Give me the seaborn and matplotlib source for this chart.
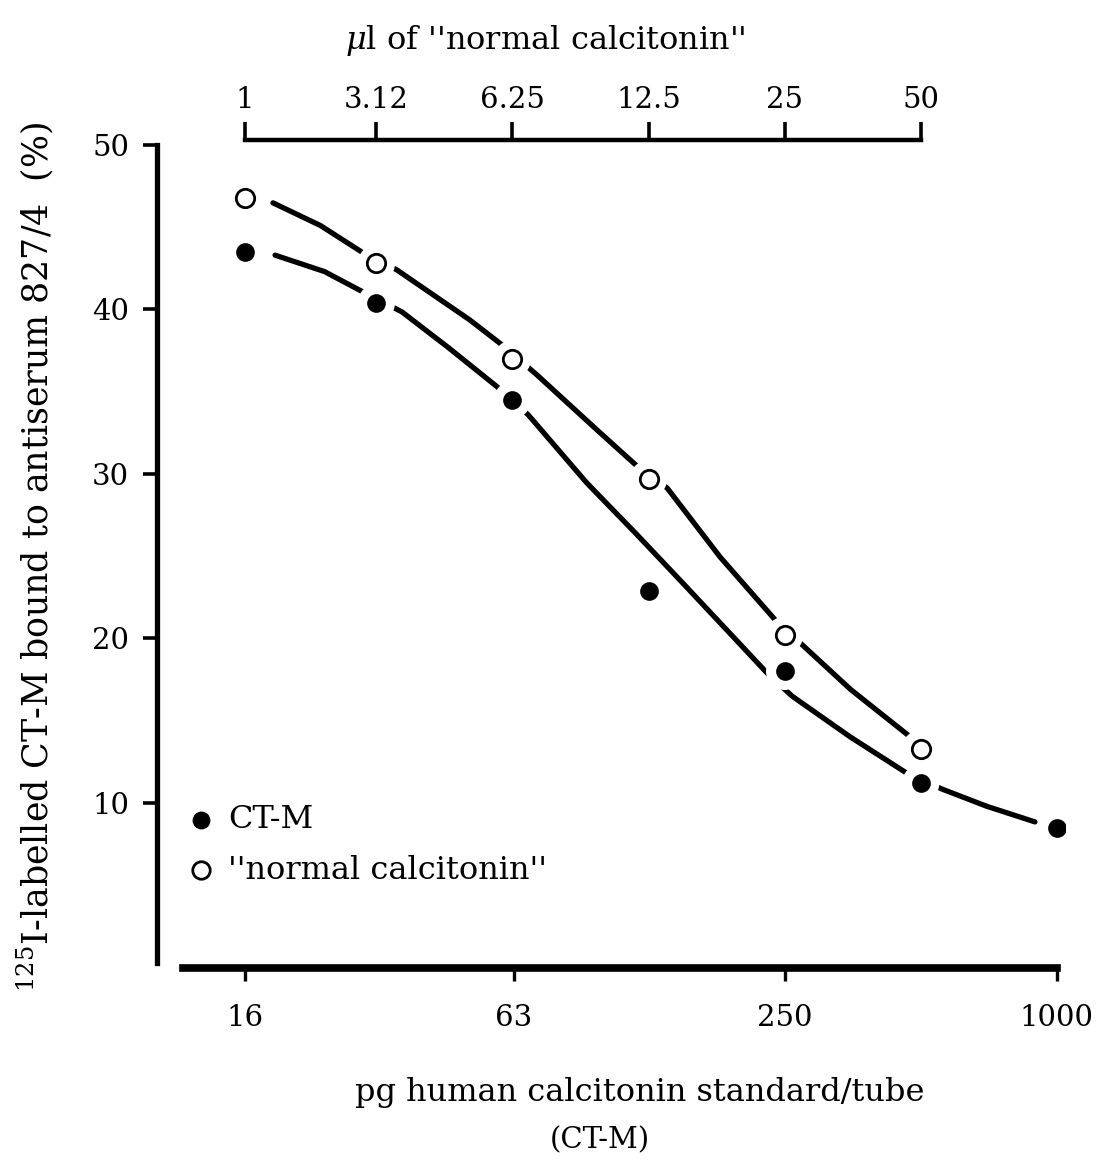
import numpy as np
import pandas as pd
import matplotlib
matplotlib.use("Agg")
import matplotlib.pyplot as plt
from matplotlib.ticker import NullLocator, FixedLocator
import seaborn as sns

# ---- data ----
dose_pg = [16, 31.25, 62.5, 125, 250, 500, 1000]
ctm_bound = [43.5, 40.4, 34.5, 22.9, 18.0, 11.2, 8.5]
normal_dose_pg = [16, 31.25, 62.5, 125, 250, 500]
normal_bound = [46.8, 42.8, 37.0, 29.7, 20.2, 13.3]

# hand-drawn fitted curves
ctm_curve_x = [18.65, 24.0, 29.2, 35.6, 45.0, 57.8, 67.7, 91.3, 117, 146.7, 185, 228.6, 259.6, 350, 466.6, 557, 700, 895]
ctm_curve_y = [43.3, 42.3, 41.06, 39.85, 37.7, 35.3, 33.6, 29.45, 26.4, 23.55, 20.6, 17.9, 16.5, 14.0, 11.8, 10.85, 9.8, 8.85]
normal_curve_x = [18.45, 23.5, 29.2, 34.7, 50.3, 59.3, 70.8, 96.1, 118.4, 137.4, 180, 240.6, 270.6, 350, 468.6]
normal_curve_y = [46.48, 45.1, 43.44, 42.4, 39.36, 37.84, 36.02, 32.68, 30.43, 29.15, 24.95, 21.0, 19.73, 16.9, 14.13]

bottom_ticks = [16, 63, 250, 1000]
bottom_labels = ["16", "63", "250", "1000"]
top_ticks = [16, 31.25, 62.5, 125, 250, 500]
top_labels = ["1", "3.12", "6.25", "12.5", "25", "50"]
y_ticks = [10, 20, 30, 40, 50]

sns.set_theme(style="white")
plt.rcParams["font.family"] = ["DejaVu Serif"]
plt.rcParams["mathtext.fontset"] = "dejavuserif"
for k in ["text.color", "axes.labelcolor", "xtick.color", "ytick.color", "axes.edgecolor"]:
    plt.rcParams[k] = "black"

W, H = 1111, 1167
fig = plt.figure(figsize=(W / 100, H / 100), dpi=100)
fig.patch.set_facecolor("white")

def px(x0, y0, x1, y1):
    return [x0 / W, 1 - y1 / H, (x1 - x0) / W, (y1 - y0) / H]

ax = fig.add_axes(px(157, 140, 1065, 967.5))
ax.set_facecolor("white")
ax.set_xscale("log")
xmin = 16 * 10 ** ((157 - 245) / 452)
xmax = 16 * 10 ** ((1065 - 245) / 452)
ax.set_xlim(xmin, xmax)
ax.set_ylim(0, 50.3)

curves = pd.concat([
    pd.DataFrame({"x": ctm_curve_x, "y": ctm_curve_y, "s": "ctm"}),
    pd.DataFrame({"x": normal_curve_x, "y": normal_curve_y, "s": "normal"}),
])
for name, g in curves.groupby("s"):
    sns.lineplot(data=g, x="x", y="y", ax=ax, color="black", lw=3.8,
                 sort=False, estimator=None, legend=False, zorder=2)

# white halos to open the line around each point
pts_all = pd.DataFrame({"x": dose_pg + normal_dose_pg, "y": ctm_bound + normal_bound})
sns.scatterplot(data=pts_all, x="x", y="y", ax=ax, s=720, color="white",
                edgecolor="none", legend=False, zorder=3)

ctm = pd.DataFrame({"x": dose_pg, "y": ctm_bound})
nrm = pd.DataFrame({"x": normal_dose_pg, "y": normal_bound})
sns.scatterplot(data=ctm, x="x", y="y", ax=ax, s=150, color="black",
                edgecolor="black", linewidth=1.2, zorder=4, label="CT-M")
sns.scatterplot(data=nrm, x="x", y="y", ax=ax, s=175, facecolor="white",
                edgecolor="black", linewidth=2.0, zorder=4,
                label="''normal calcitonin''")

# spines
for s in ["top", "right"]:
    ax.spines[s].set_visible(False)
ax.spines["left"].set_linewidth(3.8)
ax.spines["left"].set_bounds(0.3, 50)
ax.spines["bottom"].set_linewidth(5.5)
ax.spines["bottom"].set_bounds(16 * 10 ** ((183 - 245) / 452), 1000)
ax.spines["bottom"].set_position(("data", 0))

ax.xaxis.set_major_locator(FixedLocator(bottom_ticks))
ax.xaxis.set_minor_locator(NullLocator())
ax.set_xticklabels(bottom_labels)
ax.set_yticks(y_ticks)
ax.tick_params(axis="x", direction="out", length=9, width=2.4,
               labelsize=21, pad=17, bottom=True)
ax.tick_params(axis="y", direction="out", length=10, width=2.6,
               labelsize=21, pad=10, left=True)
ax.set_xlabel("")
ax.set_ylabel("")

# top axis (µl of "normal calcitonin")
ax2 = ax.twiny()
ax2.set_xscale("log")
ax2.set_xlim(ax.get_xlim())
for s in ["left", "right", "bottom"]:
    ax2.spines[s].set_visible(False)
ax2.spines["top"].set_linewidth(3.2)
ax2.spines["top"].set_bounds(16, 500)
ax2.xaxis.set_major_locator(FixedLocator(top_ticks))
ax2.xaxis.set_minor_locator(NullLocator())
ax2.set_xticklabels(top_labels)
ax2.tick_params(axis="x", direction="out", length=13, width=2.6,
                labelsize=21, pad=6, top=True)
ax2.grid(False)
ax.grid(False)

# legend
leg = ax.legend(loc="upper left", bbox_to_anchor=(163 / W, 1 - 782 / H),
                bbox_transform=fig.transFigure, frameon=False, fontsize=23,
                handletextpad=0.35, labelspacing=0.6, markerscale=0.95,
                handlelength=1.0, borderpad=0.2)

# titles / labels
fig.text(545 / W, 1 - 40 / H, "$\\mu$l of ''normal calcitonin''", ha="center",
         va="center", fontsize=23)
fig.text(35 / W, 1 - 557 / H,
         "$^{125}$I-labelled CT-M bound to antiserum 827/4  (%)",
         rotation=90, ha="center", va="center", fontsize=25)
fig.text(640 / W, 1 - 1093 / H, "pg human calcitonin standard/tube",
         ha="center", va="center", fontsize=23)
fig.text(600 / W, 1 - 1140 / H, "(CT-M)", ha="center", va="center", fontsize=21)

fig.savefig("out.png", dpi=100, facecolor="white")
